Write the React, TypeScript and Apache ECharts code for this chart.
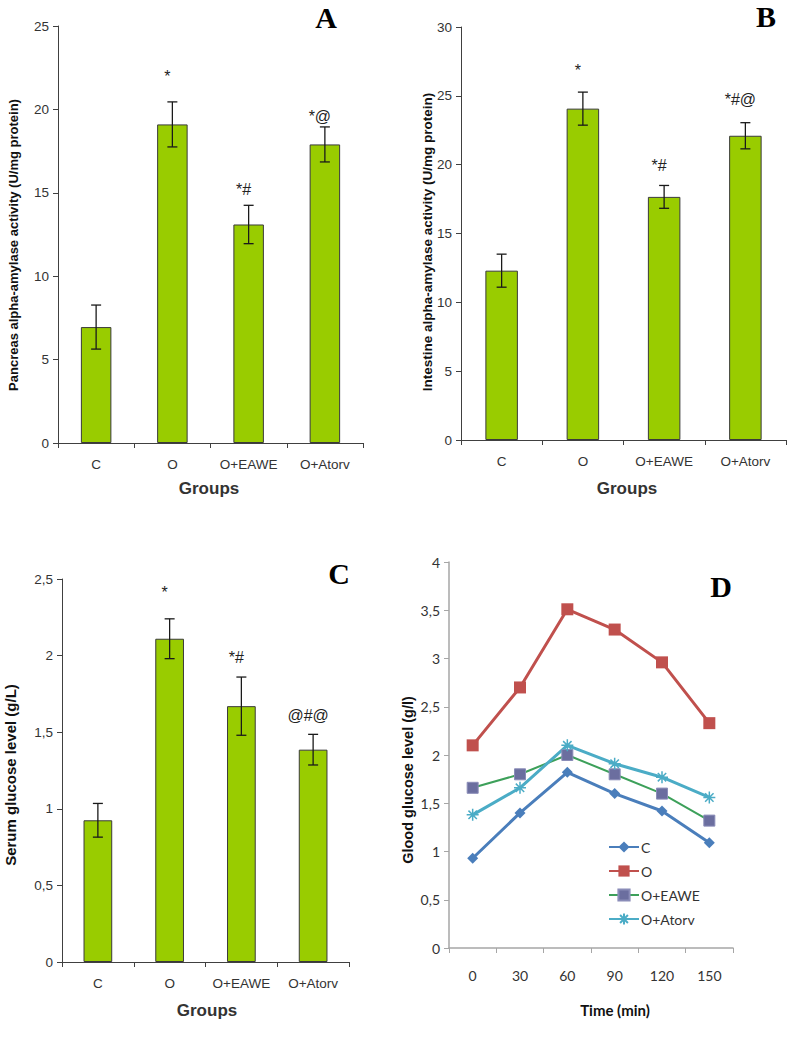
import React, { useEffect, useRef } from 'react';
import * as echarts from 'echarts';

const groups = ['C', 'O', 'O+EAWE', 'O+Atorv'];

const pancreasMeans = [6.95, 19.1, 13.1, 17.9];
const pancreasErr = [1.32, 1.35, 1.15, 1.05];
const pancreasMarks = ['', '*', '*#', '*@'];
const pancreasMarkY = [0, 22.0, 15.2, 19.6];

const intestineMeans = [12.3, 24.07, 17.66, 22.1];
const intestineErr = [1.2, 1.2, 0.83, 0.95];
const intestineMarks = ['', '*', '*#', '*#@'];
const intestineMarkY = [0, 26.85, 19.95, 24.75];

const serumMeans = [0.925, 2.11, 1.67, 1.386];
const serumErr = [0.11, 0.13, 0.19, 0.1];
const serumMarks = ['', '*', '*#', '@#@'];
const serumMarkY = [0, 2.41, 1.99, 1.61];

const times = ['0', '30', '60', '90', '120', '150'];
const glucoseC = [0.93, 1.4, 1.82, 1.6, 1.42, 1.09];
const glucoseO = [2.1, 2.7, 3.51, 3.3, 2.96, 2.33];
const glucoseEAWE = [1.66, 1.8, 2.0, 1.8, 1.6, 1.32];
const glucoseAtorv = [1.38, 1.66, 2.1, 1.91, 1.77, 1.56];

const BAR = '#99CC00';
const AXIS = '#404040';
const TXT = '#333333';
const SANS = 'Liberation Sans, Arial, sans-serif';

const comma = (v: number) => String(v).replace('.', ',');

function barXAxis(idx: number, size: number) {
  return {
    type: 'category',
    gridIndex: idx,
    data: groups,
    axisLine: { lineStyle: { color: AXIS, width: 1 } },
    axisTick: { show: true, length: 5, lineStyle: { color: AXIS } },
    axisLabel: { color: TXT, fontSize: size, fontFamily: SANS, margin: 14, interval: 0, hideOverlap: false },
  };
}

function barYAxis(idx: number, max: number, interval: number, fmt?: (v: number) => string) {
  return {
    type: 'value',
    gridIndex: idx,
    min: 0,
    max,
    interval,
    splitLine: { show: false },
    axisLine: { show: true, lineStyle: { color: AXIS, width: 1 } },
    axisTick: { show: true, length: 5, lineStyle: { color: AXIS } },
    axisLabel: { color: TXT, fontSize: 13.5, fontFamily: SANS, margin: 9, formatter: fmt },
  };
}

function barSeries(idx: number, means: number[]) {
  return {
    type: 'bar',
    xAxisIndex: idx,
    yAxisIndex: idx,
    data: means,
    barWidth: '40%',
    itemStyle: { color: BAR, borderColor: '#3a3a3a', borderWidth: 1 },
    z: 2,
  };
}

function errorSeries(idx: number, means: number[], errs: number[]) {
  return {
    type: 'custom',
    xAxisIndex: idx,
    yAxisIndex: idx,
    z: 5,
    data: means.map((m, i) => [i, m - errs[i], m + errs[i]]),
    renderItem: (params: any, api: any) => {
      const lo = api.coord([api.value(0), api.value(1)]);
      const hi = api.coord([api.value(0), api.value(2)]);
      const x = lo[0];
      const w = 5;
      const style = { stroke: '#1a1a1a', lineWidth: 1.3 };
      return {
        type: 'group',
        children: [
          { type: 'line', shape: { x1: x, y1: lo[1], x2: x, y2: hi[1] }, style },
          { type: 'line', shape: { x1: x - w, y1: lo[1], x2: x + w, y2: lo[1] }, style },
          { type: 'line', shape: { x1: x - w, y1: hi[1], x2: x + w, y2: hi[1] }, style },
        ],
      };
    },
  };
}

function markSeries(idx: number, marks: string[], ys: number[]) {
  return {
    type: 'custom',
    xAxisIndex: idx,
    yAxisIndex: idx,
    z: 6,
    data: ys.map((y, i) => [i, y]),
    renderItem: (params: any, api: any) => {
      const label = marks[params.dataIndex];
      if (!label) return null;
      const p = api.coord([api.value(0), api.value(1)]);
      return {
        type: 'text',
        x: p[0] - 5,
        y: p[1],
        style: {
          text: label,
          align: 'center',
          verticalAlign: 'middle',
          font: '16px ' + SANS,
          fill: '#222',
        },
      };
    },
  };
}

function vTitle(x: number, y: number, text: string, size: number) {
  return {
    type: 'text',
    x,
    y,
    rotation: Math.PI / 2,
    style: {
      text,
      align: 'center',
      verticalAlign: 'middle',
      font: `bold ${size}px ${SANS}`,
      fill: '#111',
    },
  };
}

function hText(x: number, y: number, text: string, font: string, fill = '#333') {
  return {
    type: 'text',
    x,
    y,
    style: { text, align: 'center', verticalAlign: 'middle', font, fill },
  };
}

export default function App() {
  const ref = useRef<HTMLDivElement>(null);
  useEffect(() => {
    if (!ref.current) return;
    const chart = echarts.init(ref.current, undefined, { renderer: 'svg' });
    const lineAxis = '#A6A6A6';
    const DFONT = 'Lato, Liberation Sans, sans-serif';
    const option: any = {
      animation: false,
      backgroundColor: '#ffffff',
      grid: [
        { left: 58, top: 26, width: 305, height: 417 },
        { left: 461, top: 27, width: 325, height: 413 },
        { left: 62, top: 579, width: 287, height: 383 },
        { left: 449, top: 562, width: 284, height: 386 },
      ],
      xAxis: [
        barXAxis(0, 13.5),
        barXAxis(1, 13.5),
        barXAxis(2, 13.5),
        {
          type: 'category',
          gridIndex: 3,
          data: times,
          boundaryGap: true,
          axisLine: { lineStyle: { color: lineAxis, width: 1.5 } },
          axisTick: { show: true, length: 5, lineStyle: { color: lineAxis } },
          axisLabel: { color: TXT, fontSize: 14, fontFamily: DFONT, margin: 20, interval: 0 },
        },
      ],
      yAxis: [
        barYAxis(0, 25, 5),
        barYAxis(1, 30, 5),
        barYAxis(2, 2.5, 0.5, comma),
        {
          type: 'value',
          gridIndex: 3,
          min: 0,
          max: 4,
          interval: 0.5,
          splitLine: { show: false },
          axisLine: { show: true, lineStyle: { color: lineAxis, width: 1.5 } },
          axisTick: { show: true, length: 5, lineStyle: { color: lineAxis } },
          axisLabel: { color: TXT, fontSize: 14, fontFamily: DFONT, margin: 9, formatter: comma },
        },
      ],
      legend: {
        orient: 'vertical',
        left: 603,
        top: 835,
        itemWidth: 30,
        itemHeight: 14,
        itemGap: 10,
        textStyle: { color: TXT, fontSize: 14, fontFamily: DFONT, padding: [0, 0, 0, -3] },
        data: ['C', 'O', 'O+EAWE', 'O+Atorv'],
      },
      series: [
        barSeries(0, pancreasMeans),
        errorSeries(0, pancreasMeans, pancreasErr),
        markSeries(0, pancreasMarks, pancreasMarkY),
        barSeries(1, intestineMeans),
        errorSeries(1, intestineMeans, intestineErr),
        markSeries(1, intestineMarks, intestineMarkY),
        barSeries(2, serumMeans),
        errorSeries(2, serumMeans, serumErr),
        markSeries(2, serumMarks, serumMarkY),
        {
          name: 'C',
          type: 'line',
          xAxisIndex: 3,
          yAxisIndex: 3,
          data: glucoseC,
          symbol: 'diamond',
          symbolSize: 11,
          lineStyle: { color: '#4A7EBB', width: 3 },
          itemStyle: { color: '#4A7EBB' },
        },
        {
          name: 'O',
          type: 'line',
          xAxisIndex: 3,
          yAxisIndex: 3,
          data: glucoseO,
          symbol: 'rect',
          symbolSize: 12,
          lineStyle: { color: '#C0504D', width: 3 },
          itemStyle: { color: '#C0504D' },
        },
        {
          name: 'O+EAWE',
          type: 'line',
          xAxisIndex: 3,
          yAxisIndex: 3,
          data: glucoseEAWE,
          symbol: 'rect',
          symbolSize: 11,
          lineStyle: { color: '#3DA05A', width: 2 },
          itemStyle: { color: '#6B6E9F', borderColor: '#8A8CB8', borderWidth: 1 },
        },
        {
          name: 'O+Atorv',
          type: 'line',
          xAxisIndex: 3,
          yAxisIndex: 3,
          data: glucoseAtorv,
          symbol: 'path://M0,5L10,5M5,0L5,10M1.5,1.5L8.5,8.5M8.5,1.5L1.5,8.5',
          symbolSize: 12,
          lineStyle: { color: '#4BACC6', width: 3 },
          itemStyle: { color: '#4BACC6', borderColor: '#4BACC6', borderWidth: 1.5 },
        },
      ],
      graphic: [
        vTitle(13, 245, 'Pancreas alpha-amylase activity (U/mg protein)', 13),
        vTitle(427, 242, 'Intestine alpha-amylase activity (U/mg protein)', 13.5),
        vTitle(10, 775, 'Serum glucose level (g/L)', 15),
        vTitle(408, 780, 'Glood glucose level (g/l)', 14.5),
        hText(209, 488, 'Groups', `bold 17px ${SANS}`),
        hText(627, 488, 'Groups', `bold 17px ${SANS}`),
        hText(207, 1010, 'Groups', `bold 17px ${SANS}`),
        hText(615, 1010, 'Time (min)', `bold 15px ${DFONT}`, '#111'),
        hText(326, 17, 'A', 'bold 30px Liberation Serif, Times New Roman, serif', '#000'),
        hText(766, 16, 'B', 'bold 30px Liberation Serif, Times New Roman, serif', '#000'),
        hText(339, 573, 'C', 'bold 30px Liberation Serif, Times New Roman, serif', '#000'),
        hText(721, 586, 'D', 'bold 30px Liberation Serif, Times New Roman, serif', '#000'),
      ],
    };
    chart.setOption(option);
    return () => chart.dispose();
  }, []);
  return (
    <div
      ref={ref}
      style={{ position: 'absolute', left: 0, top: 0, width: 789, height: 1052, background: '#fff' }}
    />
  );
}
